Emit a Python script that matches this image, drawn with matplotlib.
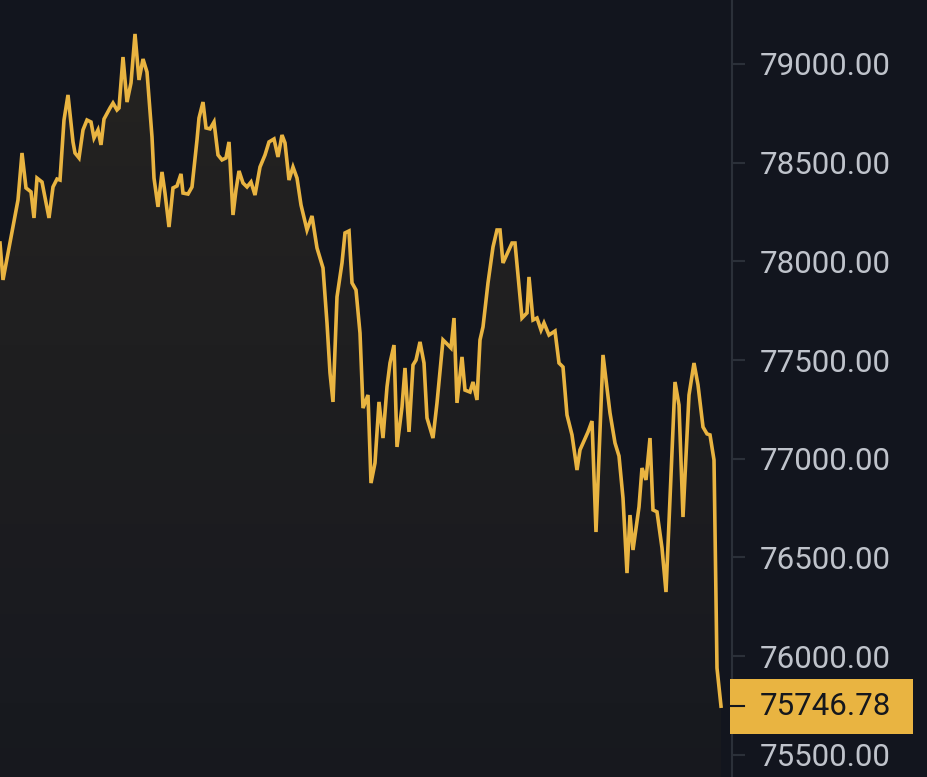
import matplotlib
matplotlib.use('Agg')

import numpy as np
import matplotlib.pyplot as plt
from matplotlib.patches import Rectangle
from matplotlib.transforms import blended_transform_factory

# time steps (chart units) and price
t = [0, 3, 13, 18, 22, 26, 31, 34, 37, 42, 49, 53, 57, 60, 64, 68, 73, 75, 79, 83,
     87, 91, 94, 98, 101, 104, 110, 113, 117, 119, 123, 127, 131, 135, 139, 143, 147, 152, 154, 158,
     162, 165, 169, 173, 177, 181, 183, 188, 192, 197, 199, 203, 206, 210, 214, 218, 222, 226, 229, 233,
     236, 239, 243, 247, 251, 255, 260, 265, 269, 274, 278, 282, 285, 289, 293, 297, 301, 307, 312, 317,
     323, 327, 330, 333, 337, 342, 345, 349, 352, 356, 360, 363, 368, 371, 375, 379, 383, 387, 390, 394,
     397, 402, 405, 409, 413, 416, 420, 424, 427, 433, 437, 443, 447, 451, 454, 457, 462, 465, 470, 473,
     477, 480, 483, 488, 493, 497, 500, 503, 508, 512, 515, 522, 527, 529, 533, 537, 541, 544, 549, 555,
     559, 563, 567, 572, 577, 580, 588, 592, 596, 603, 610, 615, 619, 623, 627, 630, 633, 639, 642, 646,
     650, 653, 657, 662, 666, 675, 679, 683, 689, 694, 698, 703, 707, 710, 714, 717, 721]
price = [78093, 77906, 78174, 78311, 78549, 78372, 78352, 78220, 78422, 78402, 78220, 78377, 78417, 78412, 78716, 78843, 78605, 78549, 78524, 78666,
         78716, 78706, 78625, 78666, 78590, 78721, 78777, 78802, 78767, 78777, 79035, 78807, 78904, 79152, 78919, 79025, 78959, 78630, 78422, 78276,
         78453, 78346, 78174, 78372, 78382, 78443, 78346, 78341, 78377, 78615, 78726, 78807, 78676, 78671, 78706, 78539, 78514, 78524, 78605, 78235,
         78362, 78458, 78397, 78377, 78402, 78336, 78478, 78539, 78605, 78620, 78529, 78640, 78600, 78412, 78478, 78422, 78286, 78159, 78230, 78068,
         77967, 77688, 77435, 77288, 77820, 77992, 78144, 78154, 77891, 77855, 77637, 77257, 77323, 76877, 76979, 77288, 77105, 77364, 77485, 77576,
         77060, 77262, 77460, 77136, 77475, 77500, 77592, 77485, 77207, 77105, 77283, 77602, 77582, 77561, 77713, 77283, 77516, 77348, 77338, 77389,
         77298, 77602, 77668, 77891, 78073, 78159, 78159, 77992, 78048, 78093, 78093, 77713, 77739, 77921, 77703, 77713, 77652, 77688, 77627, 77647,
         77485, 77465, 77222, 77121, 76943, 77045, 77136, 77191, 76629, 77526, 77232, 77080, 77014, 76801, 76421, 76715, 76538, 76756, 76953, 76893,
         77105, 76741, 76731, 76548, 76325, 77389, 77272, 76705, 77323, 77485, 77374, 77161, 77126, 77121, 76994, 75940, 75746.78]
last_price = 75746.78
ticks = [75500, 76000, 76500, 77000, 77500, 78000, 78500, 79000]

bg = '#12151e'
gold = '#e9b441'
grid_col = '#2b3039'
label_col = '#bfc3cb'

plt.rcParams['font.family'] = ['Roboto', 'DejaVu Sans']

fig = plt.figure(figsize=(9.28, 7.77), dpi=100, facecolor=bg)
ax = fig.add_axes([0, 0, 732 / 928, 1])
ax.set_facecolor(bg)
ax.set_xlim(0, 732)
ax.set_ylim(75388, 79324)

# gradient fill under the line
ymin, ymax = ax.get_ylim()
grad = np.linspace(0, 1, 256).reshape(-1, 1)
rgba = np.zeros((256, 1, 4))
rgba[..., 0], rgba[..., 1], rgba[..., 2] = 0.91, 0.71, 0.25
rgba[..., 3] = 0.025 + 0.065 * grad
im = ax.imshow(rgba, extent=[0, max(t), ymin, max(price)], origin='lower',
               aspect='auto', zorder=1)
poly = ax.fill_between(t, price, ymin, color='none', lw=0)
im.set_clip_path(poly.get_paths()[0], transform=ax.transData)

ax.plot(t, price, color=gold, lw=2.6, solid_joinstyle='miter', zorder=3)

# right price axis
for s in ['top', 'left', 'bottom']:
    ax.spines[s].set_visible(False)
ax.spines['right'].set_color(grid_col)
ax.spines['right'].set_linewidth(1.5)
ax.set_xticks([])
ax.yaxis.tick_right()
ax.set_yticks(ticks)
ax.set_yticklabels([f'{v:.2f}' for v in ticks])
ax.tick_params(axis='y', direction='out', length=9.4, width=1.5, color=grid_col,
               pad=10.5, labelsize=22.5, labelcolor=label_col)

# last price tag
trans = blended_transform_factory(ax.transAxes, ax.transData)
box_h = (ymax - ymin) * 55 / 777
ax.add_patch(Rectangle((0.997, last_price - box_h / 2), 0.25, box_h, transform=trans,
                       facecolor=gold, edgecolor='none', clip_on=False, zorder=5))
ax.plot([0.997, 1.017], [last_price, last_price], transform=trans, color='#15171d',
        lw=1.5, clip_on=False, zorder=6)
ax.text(1.038, last_price, f'{last_price:.2f}', transform=trans, va='center', ha='left',
        fontsize=22.5, color='#15171d', zorder=7)

plt.savefig('out.png', dpi=100, facecolor=bg)
